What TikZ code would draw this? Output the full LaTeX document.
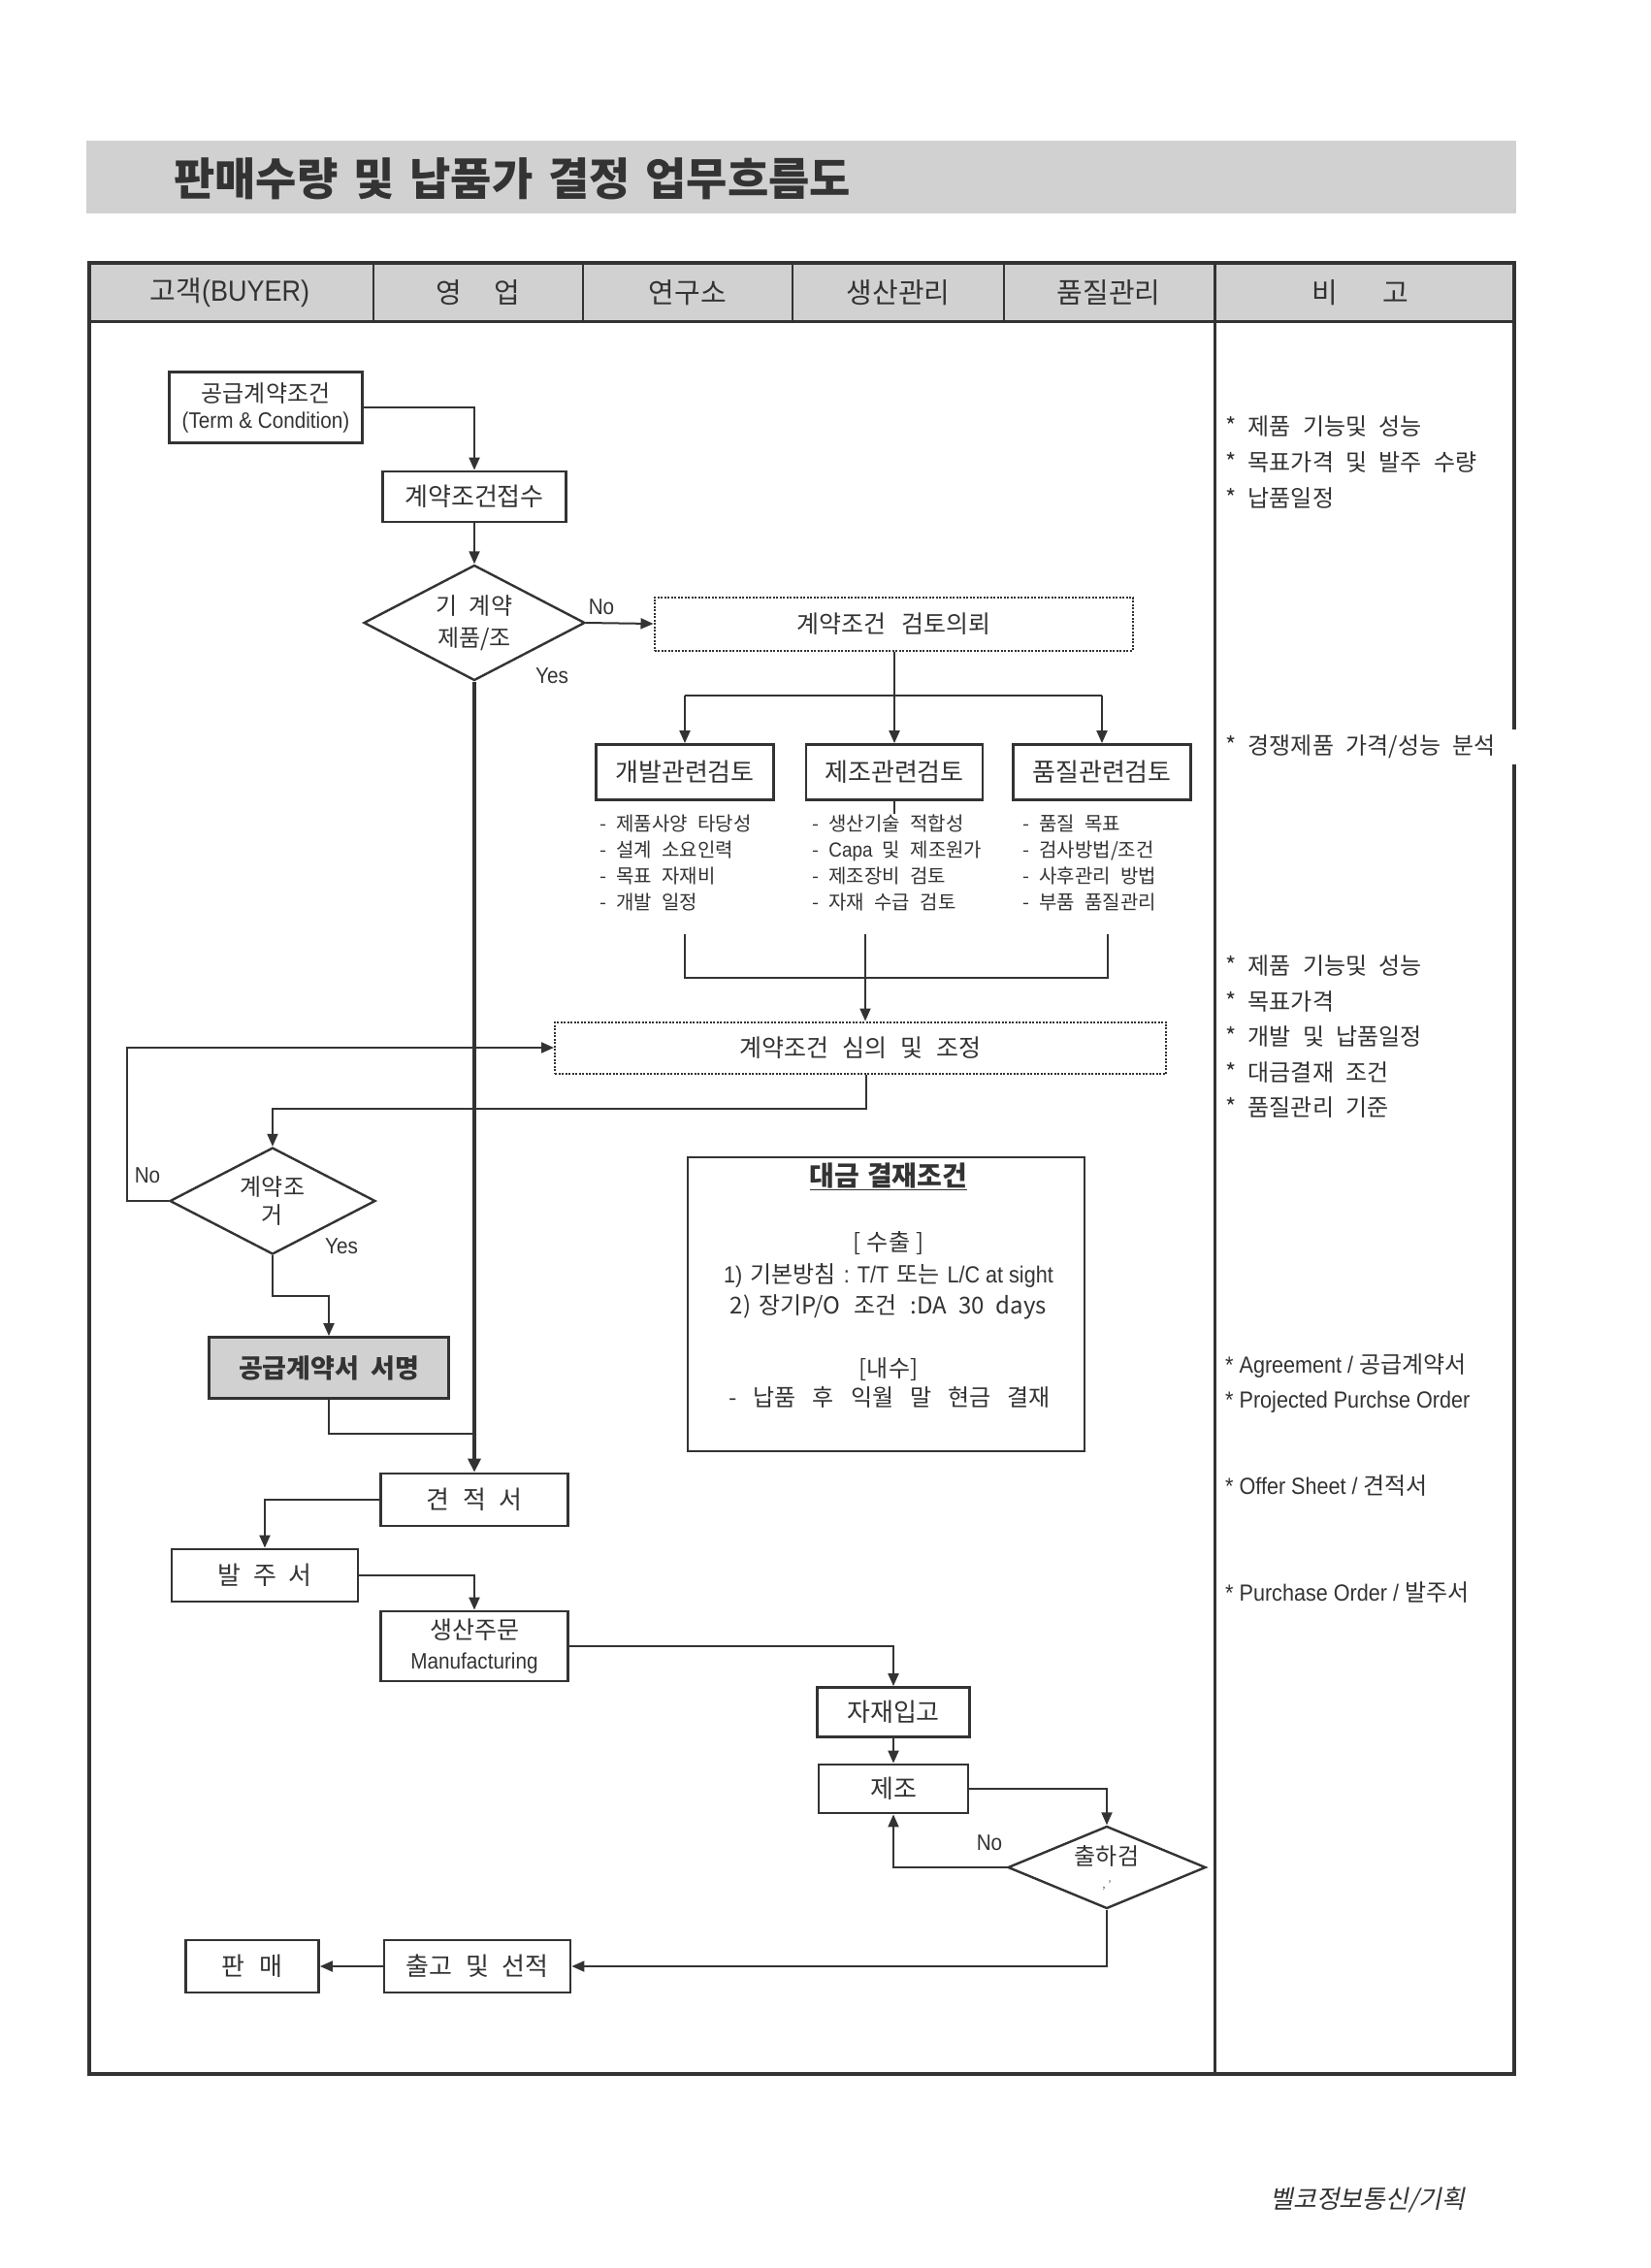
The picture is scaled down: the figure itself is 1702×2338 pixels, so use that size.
\documentclass[tikz,border=0pt]{standalone}
\usepackage{fontspec}
\setmainfont{Noto Sans CJK KR}[WordSpace=1.5]
\newfontfamily\krw{Noto Sans CJK KR}[WordSpace=2.3]
\newfontfamily\krit{Noto Sans CJK KR}[FakeSlant=0.2]
\newfontfamily\lat{Liberation Sans}[FakeStretch=0.9]
\usetikzlibrary{shapes.geometric,arrows.meta}
\newcommand\fsz[2]{\fontsize{#1}{#2}\selectfont}
\newcommand\gap[1]{\hspace{#1pt}}
\definecolor{ink}{gray}{0.2}
\definecolor{band}{gray}{0.82}
\begin{document}
\begin{tikzpicture}[x=1pt,y=-1pt,
  ln/.style={draw=ink, line width=2pt},
  arr/.style={ln, -{Triangle[length=13pt,width=11pt]}},
  tarr/.style={draw=ink, line width=4pt, -{Triangle[length=14pt,width=13pt]}},
  bx/.style={draw=ink, line width=2.8pt, rectangle, inner sep=0pt, align=center, text=ink, font=\fsz{26}{30}},
  dbx/.style={bx, line width=2pt, dash pattern=on 2pt off 1.5pt},
  dia/.style={draw=ink, line width=2.4pt, diamond, inner sep=0pt, align=center, text=ink, font=\fsz{24}{33}},
  lst/.style={anchor=north west, align=left, inner sep=0pt, text=ink, font=\krw\fsz{20}{27}},
  note/.style={anchor=west, inner sep=0pt, text=ink, font=\krw\fsz{24}{28}},
  lbl/.style={inner sep=0pt, text=ink, font=\lat\fsz{23}{26}},
  hdr/.style={inner sep=0pt, text=ink, font=\fsz{29}{32}},
  ptx/.style={inner sep=0pt, text=ink, font=\fsz{24}{28}},
]
\useasboundingbox (0,0) rectangle (1702,2338);
\fill[white] (0,0) rectangle (1702,2338);

% title band
\fill[band] (89,145) rectangle (1563,220);
\node[anchor=west, inner sep=0pt, text=ink, font=\fsz{46}{48}\bfseries] (title) at (179,184) {판매수량 및 납품가 결정 업무흐름도};

% table frame and header
\fill[band] (92,271) rectangle (1561,331);
\draw[draw=ink, line width=4pt] (1561,752) -- (1561,271) -- (92,271) -- (92,2138) -- (1561,2138) -- (1561,788);
\draw[draw=ink, line width=3pt] (92,331) -- (1561,331);
\foreach \x in {385,601,817,1035} \draw[draw=ink, line width=2pt] (\x,271) -- (\x,331);
\draw[draw=ink, line width=3pt] (1252,271) -- (1252,2138);

\node[hdr] (h1) at (237,302) {고객{\lat\fsz{30}{32}(BUYER)}};
\node[hdr] (h2) at (493,302) {영\gap{34}업};
\node[hdr] (h3) at (709,302) {연구소};
\node[hdr] (h4) at (926,302) {생산관리};
\node[hdr] (h5) at (1143,302) {품질관리};
\node[hdr] (h6) at (1402,302) {비\gap{46}고};

% nodes
\node[bx, minimum width=199pt, minimum height=73pt, font=\fsz{24}{27}] (tc) at (274,420) {공급계약조건\\{\lat\fsz{23}{27}(Term \& Condition)}};
\node[bx, minimum width=189pt, minimum height=52pt] (rcv) at (489,512) {계약조건접수};
\node[dia, aspect=1.92, minimum width=228pt, minimum height=119pt] (d1) at (489,642) {기\gap{12}계약\\제품/조};
\node[dbx, minimum width=493pt, minimum height=55pt, font=\fsz{25}{30}] (rev1) at (921,643) {계약조건\gap{16}검토의뢰};
\node[bx, minimum width=183pt, minimum height=57pt] (b1) at (706,796) {개발관련검토};
\node[bx, minimum width=182pt, minimum height=57pt] (b2) at (922,796) {제조관련검토};
\node[bx, minimum width=183pt, minimum height=57pt] (b3) at (1136,796) {품질관련검토};

\node[lst] (l1) at (618,840) {- 제품사양 타당성\\- 설계 소요인력\\- 목표 자재비\\- 개발 일정};
\node[lst] (l2) at (837,840) {- 생산기술 적합성\\- {\lat\fsz{21}{27}Capa} 및 제조원가\\- 제조장비 검토\\- 자재 수급 검토};
\node[lst] (l3) at (1054,840) {- 품질 목표\\- 검사방법/조건\\- 사후관리 방법\\- 부품 품질관리};

\node[dbx, minimum width=630pt, minimum height=53pt, font=\fsz{25}{30}] (rev2) at (887,1080) {계약조건\gap{14}심의\gap{14}및\gap{14}조정};
\node[dia, aspect=1.93, minimum width=212pt, minimum height=110pt, font=\fsz{24}{29}] (d2) at (281,1238) {계약조\\거};
\node[bx, fill=band, minimum width=247pt, minimum height=63pt, font=\fsz{27}{30}\bfseries] (sign) at (339,1410) {공급계약서\gap{12}서명};

\node[bx, minimum width=409pt, minimum height=303pt] (pay) at (913.5,1344.5) {};
\node[ptx, font=\fsz{28}{30}\bfseries] (p1) at (916,1213) {\underline{대금\gap{8}결재조건}};
\node[ptx] (p2) at (916,1282) {[\gap{6}수출\gap{6}]};
\node[ptx] (p3) at (916,1315) {{\lat 1)} 기본방침 {\lat : T/T} 또는 {\lat L/C at sight}};
\node[ptx] (p4) at (916,1347) {2) 장기P/O\gap{14}조건\gap{14}:DA\gap{12}30\gap{12}days};
\node[ptx] (p5) at (916,1412) {[내수]};
\node[ptx] (p6) at (917,1440) {-\gap{17}납품\gap{17}후\gap{17}익월\gap{17}말\gap{17}현금\gap{17}결재};

\node[bx, minimum width=193pt, minimum height=54pt] (quote) at (489,1546) {견\gap{14}적\gap{14}서};
\node[bx, minimum width=192pt, minimum height=54pt] (po) at (273,1624) {발\gap{13}주\gap{13}서};
\node[bx, minimum width=193pt, minimum height=72pt, font=\fsz{25}{31}] (mfg) at (489,1697) {생산주문\\{\lat\fsz{23}{31}Manufacturing}};
\node[bx, minimum width=157pt, minimum height=51pt] (mat) at (921,1765) {자재입고};
\node[bx, minimum width=154pt, minimum height=50pt] (make) at (921,1844) {제조};
\node[dia, aspect=2.4, minimum width=204pt, minimum height=85pt, font=\fsz{24}{24}] (d3) at (1141,1925) {출하검\\{\fsz{10}{10}, '}};
\node[bx, minimum width=192pt, minimum height=54pt] (ship) at (492,2027) {출고\gap{14}및\gap{14}선적};
\node[bx, minimum width=137pt, minimum height=54pt] (sale) at (260,2027) {판\gap{16}매};

% labels
\node[lbl] (no1) at (620,626) {No};
\node[lbl] (yes1) at (569,697) {Yes};
\node[lbl] (no2) at (152,1212) {No};
\node[lbl] (yes2) at (352,1285) {Yes};
\node[lbl] (no3) at (1020,1900) {No};

% connectors
\draw[arr] (tc.east) -| (rcv.north);
\draw[arr] (rcv.south) -- (d1.north);
\draw[arr] (d1.east) -- (rev1.west);
\coordinate (split) at (922,717);
\draw[ln] (rev1.south -| split) -- (split);
\draw[ln] (b1.north |- split) -- (b3.north |- split);
\draw[arr] (b1.north |- split) -- (b1.north);
\draw[arr] (split) -- (b2.north);
\draw[arr] (b3.north |- split) -- (b3.north);
\draw[ln] (b2.south) -- ++(0,13);

\coordinate (m1) at (706,963);
\coordinate (m2) at (892,963);
\coordinate (m3) at (1142,963);
\coordinate (mj) at (892,1008);
\draw[ln] (m1) -- (m1 |- mj) -- (m3 |- mj) -- (m3);
\draw[ln] (m2) -- (mj);
\draw[arr] (mj) -- (rev2.north -| mj);

\coordinate (c1) at (893,1143);
\draw[arr] (rev2.south -| c1) -- (c1) -| (d2.north);
\coordinate (nl) at (131,1238);
\draw[arr] (d2.west) -- (nl) |- (rev2.west);
\coordinate (y2) at (281,1336);
\draw[arr] (d2.south) -- (y2) -| (sign.north);
\coordinate (j1) at (489,1478);
\draw[ln] (sign.south) |- (j1);
\draw[tarr] (d1.south) -- (quote.north);

\draw[arr] (quote.west) -| (po.north);
\draw[arr] (po.east) -| (mfg.north);
\draw[arr] (mfg.east) -| (mat.north);
\draw[arr] (mat.south) -- (make.north);
\draw[arr] (make.east) -| (d3.north);
\draw[arr] (d3.west) -| (make.south);
\draw[arr] (d3.south) |- (ship.east);
\draw[arr] (ship.west) -- (sale.east);

% notes
\node[note] (n1) at (1263,440) {* 제품 기능및 성능};
\node[note] (n2) at (1263,477) {* 목표가격 및 발주 수량};
\node[note] (n3) at (1263,513) {* 납품일정};
\node[note] (n4) at (1263,770) {* 경쟁제품 가격/성능 분석};
\node[note] (n5) at (1263,995) {* 제품 기능및 성능};
\node[note] (n6) at (1263,1032) {* 목표가격};
\node[note] (n7) at (1263,1068) {* 개발 및 납품일정};
\node[note] (n8) at (1263,1105) {* 대금결재 조건};
\node[note] (n9) at (1263,1142) {* 품질관리 기준};
\node[note] (n10) at (1263,1408) {{\lat * Agreement / }공급계약서};
\node[note] (n11) at (1263,1445) {{\lat * Projected Purchse Order}};
\node[note] (n12) at (1263,1532) {{\lat * Offer Sheet / }견적서};
\node[note] (n13) at (1263,1642) {{\lat * Purchase Order / }발주서};

% footer
\node[inner sep=0pt, text=ink, font=\krit\fsz{26}{28}] (foot) at (1410,2268) {벨코정보통신/기획};
\end{tikzpicture}
\end{document}
